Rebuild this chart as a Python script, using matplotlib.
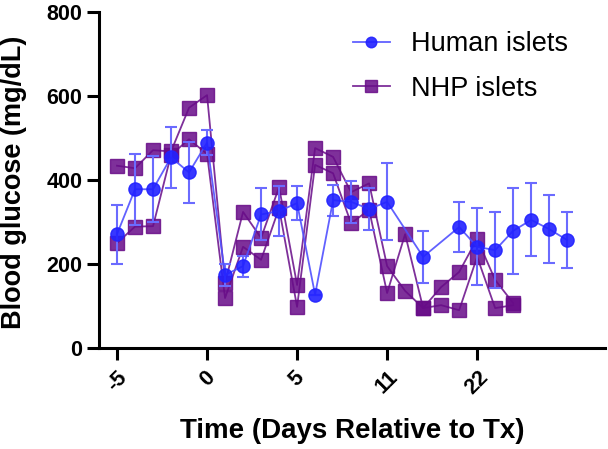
import numpy as np
import matplotlib.pyplot as plt

# -----------------------------
# Data
# -----------------------------
tick_pos = [0, 5, 10, 15, 20]
tick_labels = ["-5", "0", "5", "11", "22"]

human_mean = [271, 378, 378, 454, 418, 489, 174, 195, 318, 326, 345, 127, 352,
              348, 331, 348, None, 217, None, 288, 241, 233, 279, 305, 283, 257]
human_sem = [70, 85, 78, 72, 73, 30, 26, 25, 62, 60, 40, 0, 37,
             50, 50, 92, None, 62, None, 60, 92, 90, 102, 87, 81, 66]

nhp_a = [434, 428, 471, 468, 572, 602, 155, 324, 262, 383, 150, 476, 455,
         371, 392, 195, 136, 95, 145, 181, 260, 162, 107]
nhp_b = [250, 289, 290, 460, 497, 462, 119, 241, 210, 333, 98, 436, 416,
         297, 329, 131, 271, 95, 102, 90, 217, 95, 102]

# -----------------------------
# Style
# -----------------------------
plt.rcParams['font.family'] = ['Liberation Sans', 'DejaVu Sans']
BLUE = "#2222FF"
PURPLE = "#680C88"

fig = plt.figure(figsize=(6.08, 4.49), dpi=100)
ax = fig.add_axes([99 / 608, 1 - 348 / 449, 506 / 608, 336 / 449])

# NHP islets (two animals, same style)
for i, ys in enumerate([nhp_a, nhp_b]):
    xs = np.arange(len(ys))
    ax.plot(xs, ys, color=PURPLE, lw=1.3, alpha=0.85, marker="s", ms=10,
            mfc=PURPLE, mec=PURPLE, zorder=2,
            label="NHP islets" if i == 0 else None)

# Human islets (mean +/- SEM); gaps are skipped and connected across
hx = np.array([i for i, v in enumerate(human_mean) if v is not None])
hy = np.array([v for v in human_mean if v is not None], dtype=float)
he = np.array([v for v in human_sem if v is not None], dtype=float)
ax.errorbar(hx, hy, yerr=he, fmt="none", ecolor="#6B6BFF", elinewidth=1.5,
            capsize=4.5, capthick=1.5, zorder=3)
ax.plot(hx, hy, color="#5050FF", lw=1.3, marker="o", ms=9.5, mfc=BLUE,
        mec=BLUE, alpha=0.9, zorder=4, label="Human islets")

# -----------------------------
# Axes
# -----------------------------
ax.set_xlim(-1.0, 27.1)
ax.set_ylim(0, 800)
ax.set_yticks([0, 200, 400, 600, 800])
ax.set_xticks(tick_pos)
ax.set_xticklabels(tick_labels, rotation=45, ha="center", va="top")
for s in ["top", "right"]:
    ax.spines[s].set_visible(False)
for s in ["left", "bottom"]:
    ax.spines[s].set_linewidth(2.2)
ax.tick_params(axis="both", width=2.2, length=8.5, labelsize=15.5)
ax.tick_params(axis="x", pad=5)
for lab in ax.get_xticklabels() + ax.get_yticklabels():
    lab.set_fontweight("bold")

ax.set_xlabel("Time (Days Relative to Tx)", fontsize=20, fontweight="bold")
ax.set_ylabel("Blood glucose (mg/dL)", fontsize=19.5, fontweight="bold")
ax.xaxis.set_label_coords(0.5, -0.207)
ax.yaxis.set_label_coords(-0.143, 0.494)

handles, labels = ax.get_legend_handles_labels()
order = [labels.index("Human islets"), labels.index("NHP islets")]
ax.legend([handles[i] for i in order], [labels[i] for i in order],
          loc="upper left", bbox_to_anchor=(353 / 608, 1 - 31 / 449),
          bbox_transform=fig.transFigure, frameon=False, borderpad=0,
          borderaxespad=0, fontsize=19.5, handlelength=1.35,
          handletextpad=0.8, labelspacing=0.7, markerscale=0.8)

fig.savefig("out.png", dpi=100)
